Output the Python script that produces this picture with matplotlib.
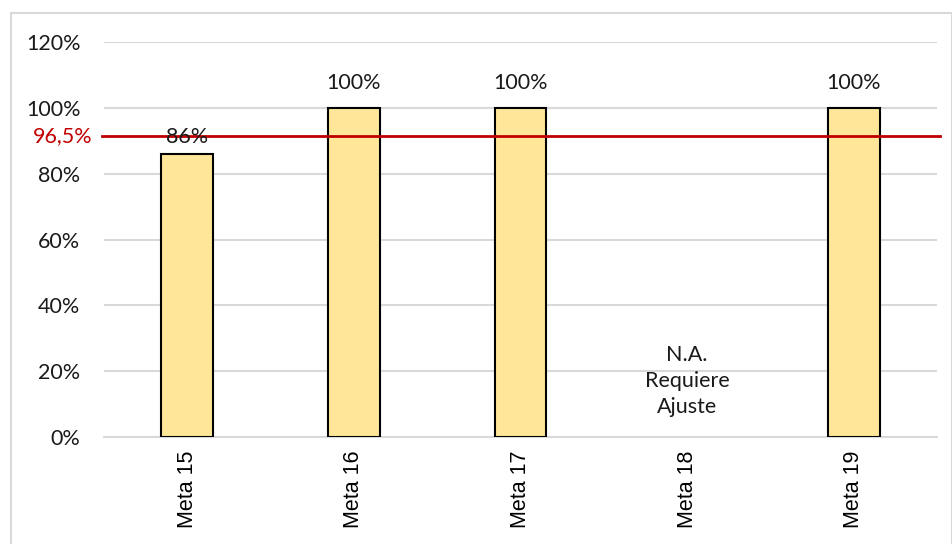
import matplotlib
matplotlib.use('Agg')
import matplotlib.pyplot as plt
from matplotlib.patches import Rectangle

metas = ['Meta 15', 'Meta 16', 'Meta 17', 'Meta 18', 'Meta 19']
valores = [86, 100, 100, None, 100]
etiquetas = ['86%', '100%', '100%', '', '100%']
desfase = [2, 4.5, 4.5, 0, 4.5]
texto_na = 'N.A.\nRequiere\nAjuste'
linea_meta = 91.5          # posicion dibujada de la linea en el grafico
linea_texto = '96,5%'
yticks = [0, 20, 40, 60, 80, 100, 120]

fig = plt.figure(figsize=(9.53, 5.44), dpi=100)
fig.patches.append(Rectangle((11 / 953, -0.01), 941 / 953, 1 - 13 / 544 + 0.01,
                             transform=fig.transFigure, fill=False,
                             edgecolor='#D9D9D9', linewidth=1.5))
ax = fig.add_axes([104 / 953, 1 - 437 / 544, 833 / 953, 395 / 544])

x = list(range(len(metas)))
for i, v in enumerate(valores):
    if v is None:
        continue
    ax.bar(i, v, width=0.31, color='#FFE699', edgecolor='black', linewidth=1.5, zorder=3)
    ax.text(i, v + desfase[i], etiquetas[i], ha='center', va='bottom', fontsize=15.5,
            family='Lato', color='#1a1a1a', zorder=5)

ax.text(3, 17, texto_na, ha='center', va='center', fontsize=15.5, family='Lato',
        linespacing=1.4, color='#1a1a1a', zorder=5)

ax.axhline(linea_meta, xmin=-0.003, xmax=1.004, color='#C00000', linewidth=2, zorder=4,
           clip_on=False)
ax.text(-0.014, linea_meta, linea_texto, transform=ax.get_yaxis_transform(),
        ha='right', va='center', color='#C00000', fontsize=15.5, family='Lato')

ax.set_xlim(-0.5, 4.5)
ax.set_ylim(0, 120)
ax.set_yticks(yticks)
ax.set_yticklabels([f'{t}%' for t in yticks], fontsize=15.5, family='Lato', color='#1a1a1a')
ax.set_xticks(x)
ax.set_xticklabels(metas, rotation=90, fontsize=15.5, family='Liberation Sans')
ax.tick_params(length=0, pad=10)
ax.tick_params(axis='y', pad=17)
ax.grid(axis='y', color='#D9D9D9', linewidth=1.5, zorder=0)
for s in ['top', 'right', 'left']:
    ax.spines[s].set_visible(False)
ax.spines['bottom'].set_color('#D9D9D9')
ax.spines['bottom'].set_linewidth(1.5)

fig.savefig('out.png', dpi=100)
